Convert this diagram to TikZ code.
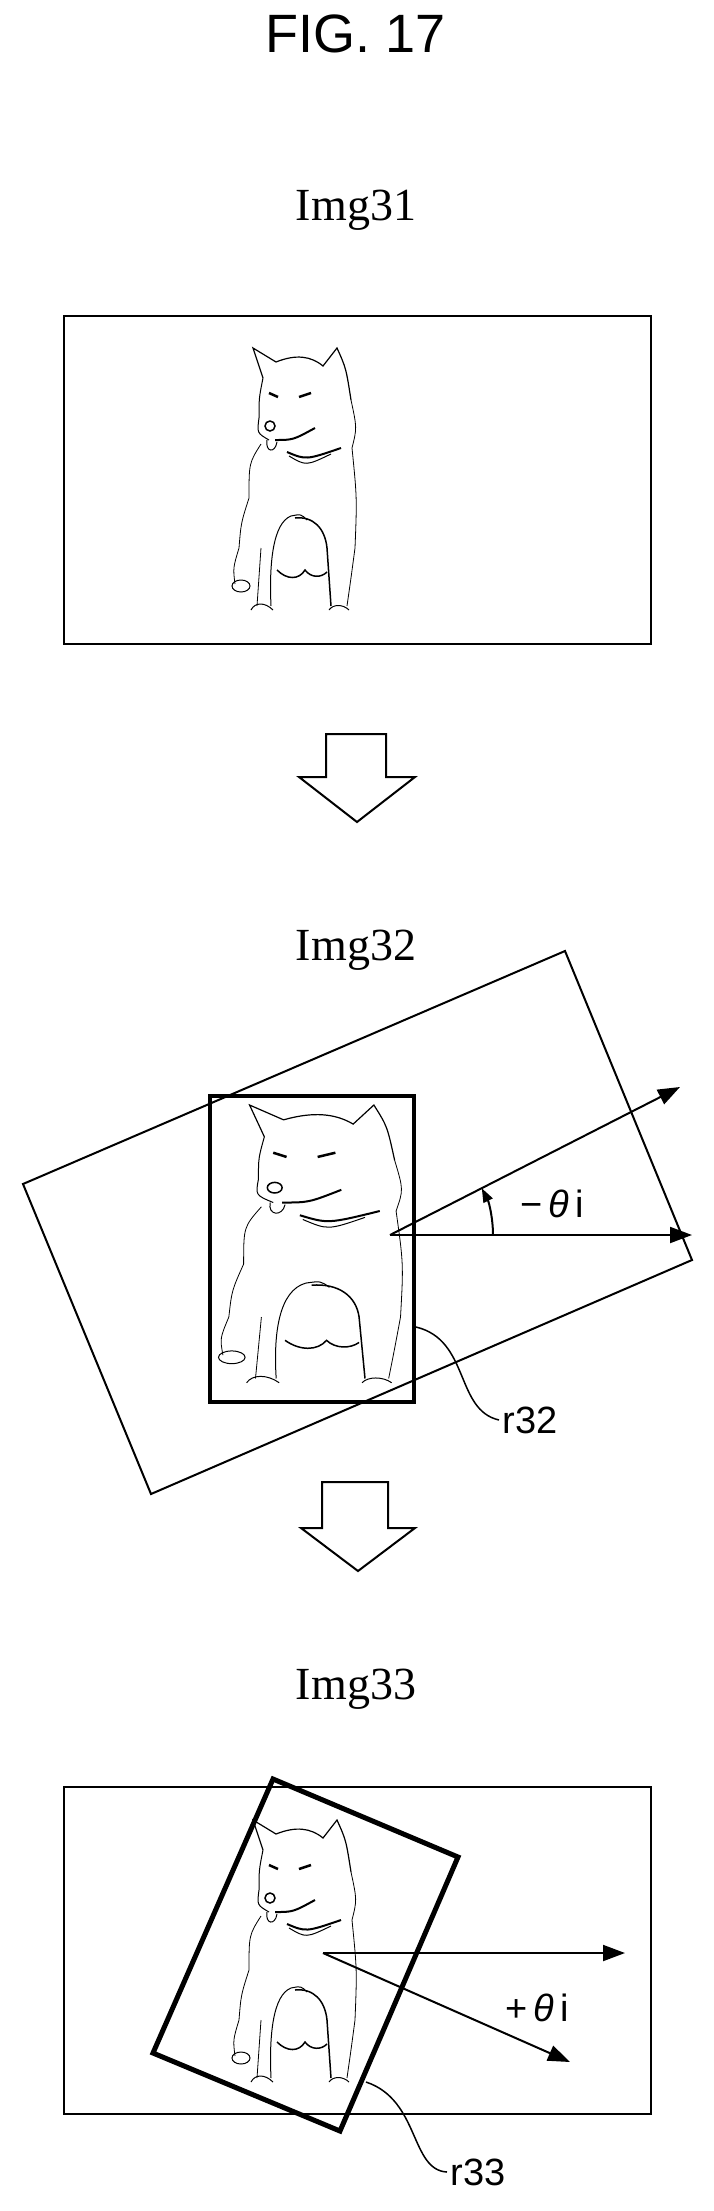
\documentclass[tikz,border=0pt]{standalone}
\usepackage{fontspec}
\setmainfont{Liberation Serif}
\setsansfont{Liberation Sans}
\usetikzlibrary{positioning, arrows.meta, calc}
\tikzset{bild/.style={draw,line width=2pt},
	rahmen/.style={draw,line width=4.5pt,line join=miter},
	pfeil/.style={line width=2pt,-{Triangle[length=22pt,width=16pt]}},
	blockpfeil/.style={draw,line width=2pt,fill=white},
	titel/.style={font=\sffamily\fontsize{54}{60}\selectfont},
	bildname/.style={font=\fontsize{46}{52}\selectfont},
	zeichen/.style={font=\sffamily\fontsize{38}{44}\selectfont},
	dog/.pic={
		\draw[line width=1.2pt] (32,30) -- (22,0) -- (45,14)
			.. controls (65,6) and (80,8) .. (92,18) -- (106,0)
			.. controls (115,20) .. (120,52);
		\draw[line width=1pt] (32,30) .. controls (28,50) .. (28,70) .. controls (26,85) .. (38,92);
		\draw[line width=2.5pt] (38,45) -- (47,49) (68,49) -- (80,45);
		\draw[line width=1.5pt] (39,78) circle (5);
		\draw[line width=2pt] (44,92) .. controls (62,92) .. (84,80);
		\draw[line width=1pt] (36,92) .. controls (34,104) and (44,106) .. (46,94);
		\draw[line width=2pt] (56,104) .. controls (75,112) .. (110,100);
		\draw[line width=1pt] (58,108) .. controls (75,118) .. (100,106);
		\draw[line width=0.8pt] (120,52) .. controls (126,80) .. (121,100)
			.. controls (126,150) .. (124,200) .. controls (120,230) .. (116,258);
		\draw[line width=0.8pt] (30,96) .. controls (18,115) .. (18,150)
			.. controls (10,175) .. (8,200) .. controls (2,220) .. (4,236);
		\draw[line width=1pt] (10,238) ellipse (9 and 6);
		\draw[line width=1pt] (40,258) .. controls (38,215) and (42,175) .. (60,168)
			.. controls (70,166) .. (76,172);
		\draw[line width=1.5pt] (64,170) .. controls (82,168) and (94,180) .. (96,200) -- (100,258);
		\draw[line width=1.5pt] (46,222) .. controls (56,232) and (68,232) .. (74,222)
			.. controls (80,230) and (90,230) .. (96,224);
		\draw[line width=0.8pt] (30,200) -- (26,258);
		\draw[line width=1pt] (20,262) .. controls (24,254) and (34,254) .. (42,262);
		\draw[line width=1pt] (98,262) .. controls (102,256) and (112,256) .. (118,262);
	}}

\begin{document}
\begin{tikzpicture}[x=1pt,y=-1pt]
	\useasboundingbox (0,0) rectangle (713,2211);

	\node (fig) [titel] at (356,34) {FIG. 17};

	% Img31
	\node (n31) [bildname] at (356,210) {Img31};
	\draw [bild] (64,316) rectangle (651,644);
	\pic at (231,348) {dog};
	\draw [blockpfeil] (326,734) -- (386,734) -- (386,777) -- (415,777) -- (357,822)
		-- (299,777) -- (326,777) -- cycle;

	% Img32
	\node (n32) [bildname] at (356,950) {Img32};
	\coordinate (a1) at (23,1184);
	\coordinate (a2) at (565,951);
	\coordinate (a3) at (692,1260);
	\coordinate (a4) at (151,1494);
	\draw [bild] (a1) -- (a2) -- (a3) -- (a4) -- cycle;
	\draw [rahmen] (210,1096) rectangle (414,1402);
	\pic [xscale=1.48, yscale=1.06] at (217,1105) {dog};
	\coordinate (o32) at (390,1235);
	\coordinate (h32) at (692,1235);
	\coordinate (s32) at (680,1087);
	\draw [pfeil] (o32) -- (h32);
	\draw [pfeil] (o32) -- (s32);
	\draw [line width=2pt,-{Triangle[length=14pt,width=10pt]}] ($(o32)+(103,0)$) arc [start angle=0, end angle=-27, radius=103];
	\node (w32) [zeichen] at (552,1204) {−\,\textit{θ}\,i};
	\coordinate (l32) at (416,1327);
	\node (r32) [zeichen] at (530,1420) {r32};
	\draw [line width=1.5pt] (l32) .. controls (470,1340) and (455,1410) .. (r32.west);
	\draw [blockpfeil] (322,1482) -- (388,1482) -- (388,1528) -- (415,1528) -- (358,1571)
		-- (301,1528) -- (322,1528) -- cycle;

	% Img33
	\node (n33) [bildname] at (356,1689) {Img33};
	\draw [bild] (64,1787) rectangle (651,2114);
	\coordinate (b1) at (273,1779);
	\coordinate (b2) at (458,1857);
	\coordinate (b3) at (340,2131);
	\coordinate (b4) at (153,2053);
	\pic at (231,1820) {dog};
	\draw [rahmen,line width=5pt] (b1) -- (b2) -- (b3) -- (b4) -- cycle;
	\coordinate (o33) at (323,1953);
	\coordinate (h33) at (625,1953);
	\coordinate (s33) at (570,2062);
	\draw [pfeil] (o33) -- (h33);
	\draw [pfeil] (o33) -- (s33);
	\node (w33) [zeichen] at (537,2008) {+\,\textit{θ}\,i};
	\coordinate (l33) at (366,2082);
	\node (r33) [zeichen] at (478,2172) {r33};
	\draw [line width=1.5pt] (l33) .. controls (420,2100) and (410,2170) .. (r33.west);
\end{tikzpicture}
\end{document}
